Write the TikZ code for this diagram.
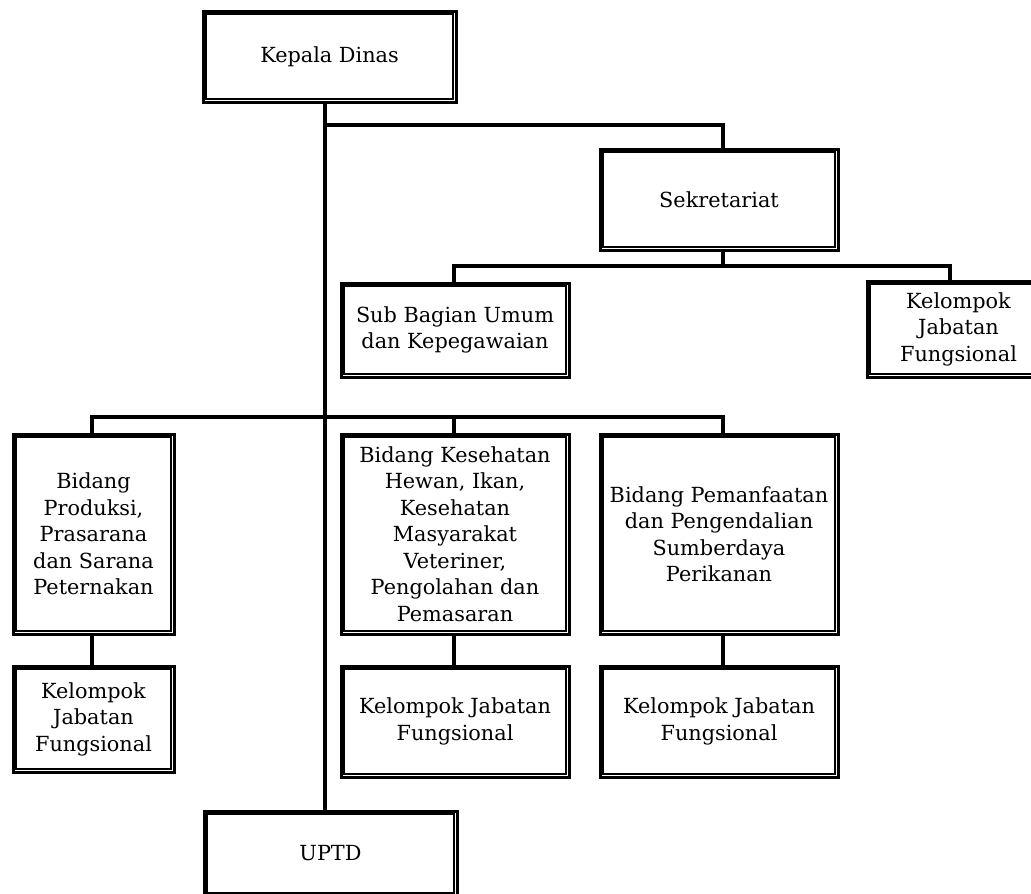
\documentclass[tikz,border=0pt]{standalone}
\usepackage{fontspec}
\setmainfont{DejaVu Serif}
\usetikzlibrary{calc}
\tikzset{
  orgbox/.style={draw, line width=3pt, align=center, inner sep=0pt,
    font=\fontsize{20.8}{26.5}\selectfont},
  innerframe/.style={line width=1.8pt},
  conn/.style={line width=4.2pt, line cap=butt, line join=miter},
}
% name, left, top, right, bottom, text  (double-framed box)
\newcommand\orgunit[6]{%
  \node[orgbox, anchor=north west,
        minimum width={#4pt-#2pt-3pt}, minimum height={#5pt-#3pt-3pt}]
        (#1) at (#2+1.5,#3+1.5) {#6};
  \draw[innerframe] ($(#1.north west)+(4.7,4.7)$) rectangle ($(#1.south east)-(4.7,4.7)$);
}
\begin{document}
\begin{tikzpicture}[x=1pt,y=-1pt]
\clip (0,0) rectangle (1031,894);
\fill[white] (0,0) rectangle (1031,894);

% boxes
\orgunit{kd}{200}{8}{456}{102}{Kepala Dinas}
\orgunit{sek}{597}{146}{838}{250}{Sekretariat}
\orgunit{sub}{338}{280}{569}{377}{Sub Bagian Umum\\dan Kepegawaian}
\orgunit{kjfS}{864}{278}{1050}{377}{Kelompok\\Jabatan\\Fungsional}
\orgunit{prod}{10}{431}{174}{634}{Bidang\\Produksi,\\Prasarana\\dan Sarana\\Peternakan}
\orgunit{kes}{338}{431}{569}{634}{Bidang Kesehatan\\Hewan, Ikan,\\Kesehatan\\Masyarakat\\Veteriner,\\Pengolahan dan\\Pemasaran}
\orgunit{pem}{597}{431}{838}{634}{Bidang Pemanfaatan\\dan Pengendalian\\Sumberdaya\\Perikanan}
\orgunit{kjfP}{10}{663}{174}{772}{Kelompok\\Jabatan\\Fungsional}
\orgunit{kjfK}{338}{663}{569}{777}{Kelompok Jabatan\\Fungsional}
\orgunit{kjfM}{597}{663}{838}{777}{Kelompok Jabatan\\Fungsional}
\orgunit{uptd}{201}{808}{457}{896}{UPTD}

% junction points of the connector lines
\coordinate (b1) at (325,125);
\coordinate (b1r) at (723,125);
\coordinate (b2l) at (454,266);
\coordinate (b2m) at (723,266);
\coordinate (b2r) at (950,266);
\coordinate (b3l) at (92,417);
\coordinate (b3m) at (454,417);
\coordinate (b3r) at (723,417);

% connectors
\draw[conn] (kd.south -| b1) -- (uptd.north -| b1);
\draw[conn] (b1) -- (b1r) -- (sek.north -| b1r);
\draw[conn] (sek.south -| b2m) -- (b2m);
\draw[conn] (sub.north -| b2l) -- (b2l) -- (b2r) -- (kjfS.north -| b2r);
\draw[conn] (prod.north -| b3l) -- (b3l) -- (b3r) -- (pem.north -| b3r);
\draw[conn] (b3m) -- (kes.north -| b3m);
\draw[conn] (prod.south -| b3l) -- (kjfP.north -| b3l);
\draw[conn] (kes.south -| b3m) -- (kjfK.north -| b3m);
\draw[conn] (pem.south -| b3r) -- (kjfM.north -| b3r);
\end{tikzpicture}
\end{document}
